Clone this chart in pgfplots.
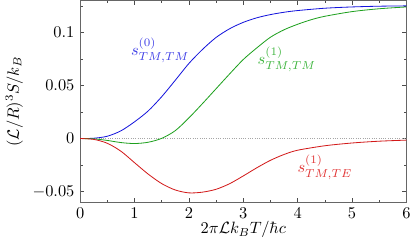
\documentclass[border=0pt]{standalone}
\usepackage{pgfplots}
\pgfplotsset{compat=1.18}
\definecolor{cb}{RGB}{20,20,220}
\definecolor{cg}{RGB}{30,160,30}
\definecolor{cr}{RGB}{210,25,25}
\definecolor{lb}{RGB}{60,60,230}
\definecolor{lg}{RGB}{60,180,60}
\definecolor{lr}{RGB}{225,50,50}
\begin{document}
\begin{tikzpicture}
\begin{axis}[
  scale only axis, width=199pt, height=123pt,
  xmin=0, xmax=6, ymin=-0.06, ymax=0.13,
  xtick={0,1,2,3,4,5,6},
  minor xtick={0.5,1.5,2.5,3.5,4.5,5.5},
  ytick={-0.05,0,0.05,0.1},
  yticklabels={$-0.05$,$0$,$0.05$,$0.1$},
  minor ytick={-0.025,0.025,0.075,0.125},
  tick align=inside,
  major tick length=2.5pt, minor tick length=1.5pt,
  axis line style={gray!80!black, line width=0.7pt},
  every tick/.style={gray!60!black, line width=0.4pt},
  xlabel={$2\pi\mathcal{L}k_BT/\hbar c$},
  ylabel={$(\mathcal{L}/R)^3 S/k_B$},
  xlabel style={yshift=5pt},
  ylabel style={yshift=-1pt},
  clip=true,
]
\addplot[gray!70, densely dotted, line width=0.4pt, forget plot] coordinates {(0,0) (6,0)};
\addplot[cb, smooth, line width=0.5pt] coordinates {
(0,0) (0.25,0.0003) (0.5,0.0022) (0.75,0.0073) (1.0,0.0158) (1.25,0.026) (1.5,0.0395) (1.75,0.055) (2.0,0.0708) (2.25,0.084) (2.5,0.0953) (2.75,0.1035) (3.0,0.1095) (3.25,0.1138) (3.5,0.1168) (3.75,0.119) (4.0,0.1206) (4.5,0.1228) (5.0,0.124) (5.5,0.1247) (6,0.125)};
\addplot[cg, smooth, line width=0.5pt] coordinates {
(0,0) (0.25,-0.0003) (0.5,-0.0018) (0.75,-0.0038) (1.0,-0.0047) (1.25,-0.0035) (1.5,0.0002) (1.75,0.0075) (2.0,0.0195) (2.25,0.033) (2.5,0.047) (2.75,0.061) (3.0,0.0745) (3.25,0.0855) (3.5,0.0955) (3.75,0.1025) (4.0,0.1077) (4.25,0.112) (4.5,0.1152) (5,0.1196) (5.5,0.1223) (6,0.124)};
\addplot[cr, smooth, line width=0.5pt] coordinates {
(0,0) (0.25,-0.0008) (0.5,-0.0045) (0.75,-0.012) (1.0,-0.0228) (1.25,-0.0335) (1.5,-0.0425) (1.75,-0.0485) (2.0,-0.0512) (2.25,-0.0505) (2.5,-0.0478) (2.75,-0.0425) (3.0,-0.0352) (3.25,-0.0275) (3.5,-0.0205) (3.75,-0.015) (4.0,-0.011) (4.5,-0.0068) (5.0,-0.0042) (5.5,-0.0025) (6,-0.0015)};
\node[lb] at (axis cs:1.47,0.083) {$s^{(0)}_{TM,TM}$};
\node[lg] at (axis cs:3.8,0.0745) {$s^{(1)}_{TM,TM}$};
\node[lr] at (axis cs:4.5,-0.027) {$s^{(1)}_{TM,TE}$};
\end{axis}
\end{tikzpicture}
\end{document}
